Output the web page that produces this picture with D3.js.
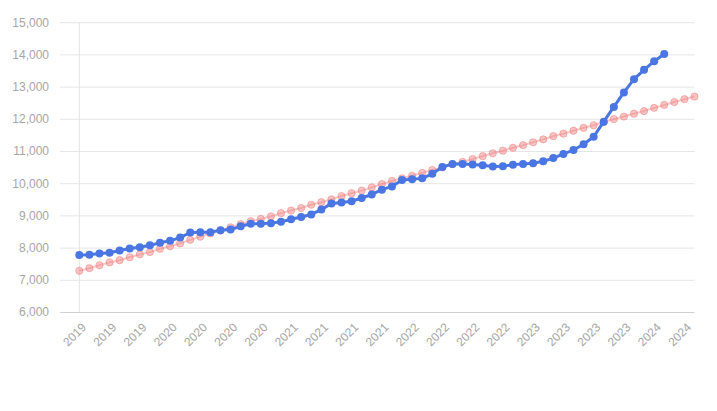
<!DOCTYPE html>
<html>
<head>
<meta charset="utf-8">
<script src="https://cdn.jsdelivr.net/npm/d3@7/dist/d3.min.js"></script>
<style>
  html, body { margin: 0; padding: 0; background: #ffffff; }
  svg { display: block; font-family: "Liberation Sans", Arial, Helvetica, sans-serif; }
</style>
</head>
<body>
<svg id="chart" width="717" height="411"></svg>
<script>
// Monthly periods Apr 2019 .. May 2024 (62 points)
const months = [
  "2019-04","2019-05","2019-06","2019-07","2019-08","2019-09","2019-10","2019-11","2019-12",
  "2020-01","2020-02","2020-03","2020-04","2020-05","2020-06","2020-07","2020-08","2020-09","2020-10","2020-11","2020-12",
  "2021-01","2021-02","2021-03","2021-04","2021-05","2021-06","2021-07","2021-08","2021-09","2021-10","2021-11","2021-12",
  "2022-01","2022-02","2022-03","2022-04","2022-05","2022-06","2022-07","2022-08","2022-09","2022-10","2022-11","2022-12",
  "2023-01","2023-02","2023-03","2023-04","2023-05","2023-06","2023-07","2023-08","2023-09","2023-10","2023-11","2023-12",
  "2024-01","2024-02","2024-03","2024-04","2024-05"
];

// Blue series (actual), Apr 2019 .. Feb 2024
const actualValues = [
  7770, 7780, 7820, 7840, 7910, 7970, 8010, 8070, 8150,
  8210, 8310, 8470, 8480, 8480, 8540, 8560, 8660, 8740, 8740, 8760, 8800,
  8880, 8950, 9030, 9180, 9370, 9400, 9440, 9540, 9650, 9800, 9900, 10100,
  10120, 10150, 10290, 10500, 10600, 10600, 10580, 10560, 10520, 10530, 10570, 10600,
  10620, 10680, 10780, 10910, 11030, 11210, 11440, 11910, 12370, 12820, 13230, 13520,
  13790, 14010
];

// Pink series (trend), Apr 2019 .. May 2024
const trendValues = [
  7280, 7360, 7450, 7540, 7610, 7700, 7790, 7860, 7960,
  8040, 8130, 8240, 8340, 8440, 8530, 8630, 8730, 8820, 8890, 8970, 9070,
  9150, 9230, 9330, 9410, 9500, 9600, 9690, 9770, 9870, 9975, 10070, 10150,
  10230, 10320, 10410, 10490, 10590, 10660, 10750, 10840, 10930, 11010, 11100, 11180,
  11270, 11360, 11460, 11540, 11630, 11720, 11800, 11900, 11990, 12070, 12160, 12240,
  12340, 12430, 12520, 12610, 12690
];

// x tick labels (every third month)
const tickLabels = [
  "2019","2019","2019",
  "2020","2020","2020","2020",
  "2021","2021","2021","2021",
  "2022","2022","2022","2022",
  "2023","2023","2023","2023",
  "2024","2024"
];
const tickEvery = 3;

const yTicks = [6000, 7000, 8000, 9000, 10000, 11000, 12000, 13000, 14000, 15000];

const svg = d3.select("#chart");

const plotLeft = 79.3, plotRight = 694.5, plotTop = 22.2, plotBottom = 312;
const gridLeft = 60;

const x = d3.scaleLinear().domain([0, months.length - 1]).range([plotLeft, plotRight]);
const y = d3.scaleLinear().domain([6000, 15000]).range([plotBottom, plotTop]);

const fmt = d3.format(",");

// horizontal gridlines + y labels via axis
const yAxis = d3.axisLeft(y)
  .tickValues(yTicks)
  .tickFormat(fmt)
  .tickSize(-(plotRight - gridLeft))
  .tickPadding(11);

const gy = svg.append("g")
  .attr("transform", `translate(${gridLeft},0)`)
  .call(yAxis);
gy.select(".domain").remove();
gy.selectAll(".tick line").attr("stroke", "#e5e5e5").attr("stroke-width", 1);
gy.selectAll(".tick text")
  .attr("fill", "#a6a6a6")
  .attr("font-size", 12)
  .attr("font-family", "'Liberation Sans', Arial, sans-serif");
gy.selectAll(".tick").filter(d => d === 6000).select("line").attr("stroke", "#d0d0d0");

// vertical left line at first category
svg.append("line")
  .attr("x1", x(0)).attr("x2", x(0))
  .attr("y1", plotTop).attr("y2", plotBottom)
  .attr("stroke", "#e3e3e3").attr("stroke-width", 1);

// x axis labels
const tickIdx = tickLabels.map((_, i) => i * tickEvery);
const xAxis = d3.axisBottom(x)
  .tickValues(tickIdx)
  .tickFormat((d, i) => tickLabels[i])
  .tickSize(0);
const gx = svg.append("g")
  .attr("transform", `translate(0,${plotBottom})`)
  .call(xAxis);
gx.select(".domain").remove();
gx.selectAll(".tick text")
  .attr("fill", "#a6a6a6")
  .attr("font-size", 12)
  .attr("font-family", "'Liberation Sans', Arial, sans-serif")
  .attr("text-anchor", "end")
  .attr("dy", "0.35em")
  .attr("transform", "translate(2,11) rotate(-45)");

// trend series (pink)
const trendData = trendValues.map((v, i) => ({ i, v }));
const line = d3.line().x(d => x(d.i)).y(d => y(d.v));

svg.append("path")
  .datum(trendData)
  .attr("fill", "none")
  .attr("stroke", "rgba(240,128,128,0.45)")
  .attr("stroke-width", 2)
  .attr("d", line);

svg.append("g").selectAll("circle")
  .data(trendData)
  .join("circle")
  .attr("cx", d => x(d.i))
  .attr("cy", d => y(d.v))
  .attr("r", 3.6)
  .attr("fill", "rgba(240,128,128,0.45)")
  .attr("stroke", "rgba(240,128,128,0.55)")
  .attr("stroke-width", 1);

// actual series (blue)
const actualData = actualValues.map((v, i) => ({ i, v }));
svg.append("path")
  .datum(actualData)
  .attr("fill", "none")
  .attr("stroke", "#4a76e4")
  .attr("stroke-width", 3)
  .attr("stroke-linejoin", "round")
  .attr("d", line);

svg.append("g").selectAll("circle")
  .data(actualData)
  .join("circle")
  .attr("cx", d => x(d.i))
  .attr("cy", d => y(d.v))
  .attr("r", 4)
  .attr("fill", "#4a76e4");
</script>
</body>
</html>
